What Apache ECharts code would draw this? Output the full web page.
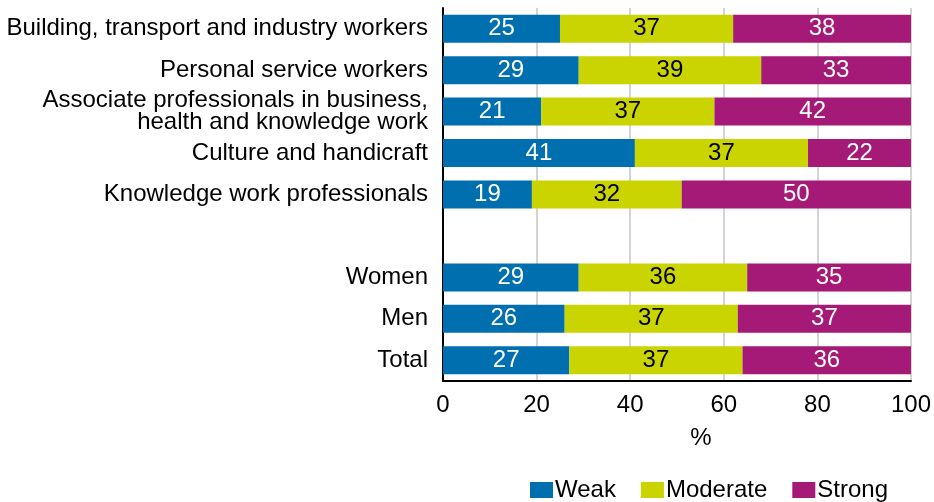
<!DOCTYPE html>
<html>
<head>
<meta charset="utf-8">
<script src="https://cdn.jsdelivr.net/npm/echarts@6/dist/echarts.min.js"></script>
<style>
  html, body { margin: 0; padding: 0; background: #fff; }
  #chart { width: 934px; height: 502px; }
</style>
</head>
<body>
<div id="chart"></div>
<script>
// Occupational groups and totals; the empty entry leaves a gap between the two blocks
const categories = [
  'Building, transport and industry workers',
  'Personal service workers',
  'Associate professionals in business,\nhealth and knowledge work',
  'Culture and handicraft',
  'Knowledge work professionals',
  '',
  'Women',
  'Men',
  'Total'
];
const weak     = [25, 29, 21, 41, 19, null, 29, 26, 27];
const moderate = [37, 39, 37, 37, 32, null, 36, 37, 37];
const strong   = [38, 33, 42, 22, 50, null, 35, 37, 36];
const xTicks = [0, 20, 40, 60, 80, 100];

const FONT = "'Liberation Sans', Arial, sans-serif";
const FS = 24;

function barSeries(name, data, color, labelColor) {
  return {
    name: name,
    type: 'bar',
    stack: 'share',
    data: data,
    barWidth: 28,
    itemStyle: { color: color },
    label: {
      show: true,
      position: 'inside',
      color: labelColor,
      fontFamily: FONT,
      fontSize: FS,
      formatter: p => (p.value == null ? '' : String(p.value))
    },
    emphasis: { disabled: true }
  };
}

const chart = echarts.init(document.getElementById('chart'), null, { renderer: 'canvas' });
chart.setOption({
  animation: false,
  textStyle: { fontFamily: FONT },
  grid: { left: 443, right: 21, top: 8, bottom: 121, containLabel: false },
  legend: {
    data: ['Weak', 'Moderate', 'Strong'],
    left: 525,
    top: 473,
    itemWidth: 23,
    itemHeight: 16,
    itemGap: 25,
    icon: 'rect',
    textStyle: { fontFamily: FONT, fontSize: FS, color: '#000', padding: [0, 0, 0, -3] }
  },
  xAxis: {
    type: 'value',
    min: xTicks[0],
    max: xTicks[xTicks.length - 1],
    interval: 20,
    name: '%',
    nameLocation: 'middle',
    nameGap: 45,
    nameTextStyle: { fontFamily: FONT, fontSize: FS, color: '#000', padding: [0, 0, 0, 48] },
    axisLine: { show: true, lineStyle: { color: '#000', width: 2 } },
    axisTick: { show: false },
    axisLabel: {
      margin: 12,
      fontFamily: FONT,
      fontSize: FS,
      color: '#000',
      formatter: v => (xTicks.includes(v) ? String(v) : '')
    },
    splitLine: { show: true, lineStyle: { color: '#d4d4d4', width: 2 } }
  },
  yAxis: {
    type: 'category',
    data: categories,
    inverse: true,
    axisLine: { show: true, onZero: false, lineStyle: { color: '#000', width: 2 } },
    axisTick: { show: false },
    axisLabel: {
      margin: 15,
      fontFamily: FONT,
      fontSize: FS,
      lineHeight: 22,
      color: '#000',
      align: 'right'
    },
    splitLine: { show: false }
  },
  series: [
    barSeries('Weak', weak, '#006fb0', '#fff'),
    barSeries('Moderate', moderate, '#c9d400', '#000'),
    barSeries('Strong', strong, '#a51a76', '#fff')
  ]
});
</script>
</body>
</html>
